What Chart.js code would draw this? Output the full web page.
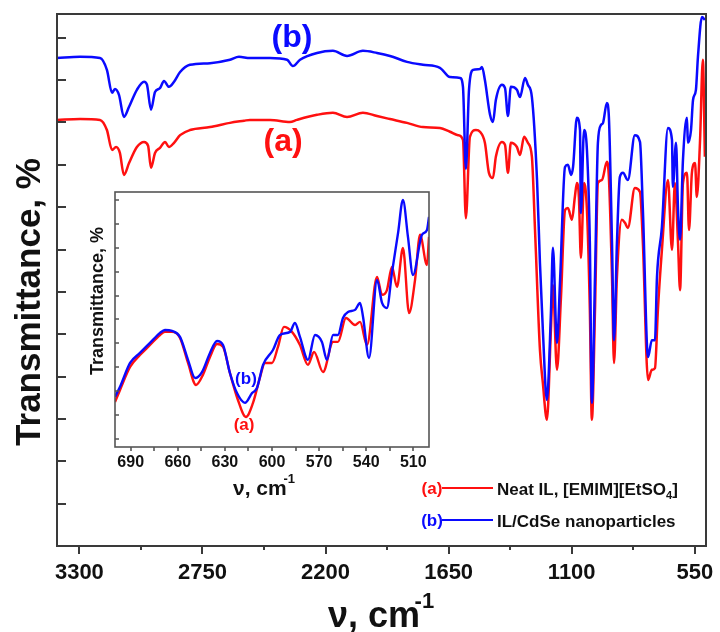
<!DOCTYPE html>
<html>
<head>
<meta charset="utf-8">
<title>FTIR spectra</title>
<script src="https://cdn.jsdelivr.net/npm/chart.js@4.4.1/dist/chart.umd.min.js"></script>
<style>
  html, body { margin: 0; padding: 0; background: #fff; }
  #wrap { position: relative; width: 720px; height: 632px; overflow: hidden; }
  #main { position: absolute; left: 0; top: 0; }
  #inset { position: absolute; left: 80px; top: 186px; }
</style>
</head>
<body>
<div id="wrap">
  <canvas id="main" width="720" height="632"></canvas>
  <canvas id="inset" width="360" height="320"></canvas>
</div>
<script>
// wavenumber (cm-1) and transmittance (arb. units, one unit per y tick)
const mainWaveA = [3400,3297,3208,3177,3154,3136,3119,3101,3078,3043,3011,2993,2980,2962,2940,2917,2900,2877,2850,2806,
  2716,2627,2564,2538,2448,2359,2328,2238,2167,2104,2033,1970,1912,1836,1765,1689,1644,1608,1586,1573,
  1555,1528,1510,1488,1470,1452,1439,1412,1398,1385,1372,1345,1331,1313,1296,1278,1264,1242,1229,1211,
  1193,1184,1166,1148,1130,1117,1099,1086,1077,1068,1059,1045,1032,1019,1010,996,983,965,943,934,
  920,911,898,876,862,849,818,795,782,759,742,728,715,697,670,652,639,625,616,603,
  585,576,563,549,541,527,514,505];
const mainTransA = [10.06,10.08,10.06,9.82,9.35,9.42,9.28,8.76,9.04,9.42,9.54,9.45,8.93,9.28,9.40,9.54,9.42,9.52,9.70,9.82,
  9.89,9.99,10.04,10.06,10.06,10.01,10.06,10.18,10.23,10.13,10.23,10.15,10.08,9.99,9.89,9.87,9.78,9.70,9.59,7.74,
  9.66,9.82,9.78,9.52,8.81,8.69,9.19,9.54,9.47,8.81,9.52,9.42,9.23,9.66,9.52,9.19,7.46,4.63,3.85,2.98,
  5.10,6.16,4.16,5.88,7.93,7.98,7.70,8.24,8.57,8.24,6.80,8.57,7.93,5.57,2.98,5.57,8.57,8.64,9.07,8.71,
  6.35,4.32,6.35,7.70,7.63,7.51,8.45,8.36,7.15,3.92,4.16,4.20,5.57,6.99,8.64,6.99,8.57,7.15,6.04,8.57,
  8.81,7.46,8.81,9.04,8.24,9.52,11.48,9.19];

const mainWaveB = [3400,3297,3208,3177,3154,3141,3123,3101,3078,3043,3011,2998,2980,2962,2940,2922,2900,2877,2850,2806,
  2716,2627,2587,2538,2448,2372,2346,2314,2238,2167,2104,2033,1970,1912,1836,1765,1689,1644,1599,1586,
  1573,1559,1541,1510,1501,1488,1465,1452,1439,1412,1398,1385,1372,1345,1331,1309,1296,1278,1255,1242,
  1229,1211,1193,1184,1166,1152,1130,1117,1103,1094,1077,1063,1059,1045,1032,1019,1010,996,983,969,
  960,943,934,920,911,898,885,871,849,818,795,782,759,742,728,719,697,670,652,648,
  634,625,616,603,585,581,567,558,545,536,518,505];
const mainTransB = [11.52,11.55,11.52,11.24,10.70,10.79,10.65,10.13,10.37,10.77,10.96,10.89,10.30,10.72,10.81,10.98,10.84,10.96,11.19,11.36,
  11.40,11.48,11.55,11.52,11.52,11.48,11.33,11.48,11.64,11.69,11.57,11.69,11.64,11.57,11.43,11.36,11.29,11.07,11.05,10.84,
  8.90,10.77,11.24,11.26,11.31,11.00,10.18,10.01,10.53,10.89,10.81,10.15,10.84,10.77,10.60,11.05,10.89,10.60,8.64,6.68,
  5.10,3.45,5.50,7.04,4.79,6.28,8.95,9.00,8.76,8.95,10.11,9.82,7.86,9.82,9.35,7.15,3.38,6.35,9.52,9.94,
  9.99,10.46,10.13,7.15,4.86,7.15,8.71,8.81,8.64,9.70,9.54,7.93,4.46,4.86,4.86,6.35,7.53,9.87,9.59,8.48,
  9.52,7.93,7.23,9.11,10.11,9.52,9.82,10.53,10.77,11.55,12.49,12.42];

// inset: 700-500 cm-1
const insetWaveA = [700,696.8,690.4,684.1,677.7,671.3,668.2,663.7,658.6,653.5,648.4,644.0,639.5,635.0,631.2,626.8,621.7,616.6,612.1,607.6,
  604.5,600.0,596.2,592.4,587.3,582.2,577.1,573.2,567.5,561.1,558.0,552.9,547.1,543.9,539.5,533.1,529.9,526.8,523.6,520.4,
  516.6,512.7,508.9,505.7,501.3,500];
const insetTransA = [2.55,3.05,4.01,4.51,4.93,5.35,5.48,5.48,5.23,4.18,3.26,3.68,4.43,4.97,4.85,3.76,2.63,1.92,2.51,3.59,
  4.18,4.18,4.85,5.69,5.48,4.93,4.10,4.64,3.80,5.06,5.06,6.06,5.77,5.90,4.93,7.78,7.03,7.23,8.20,7.36,
  8.99,6.27,7.65,9.54,8.28,9.45];

const insetWaveB = [700,696.8,690.4,684.1,677.7,671.3,668.2,663.7,658.6,653.5,649.0,644.6,639.5,635.0,631.2,626.8,622.3,617.2,612.7,609.6,
  605.7,599.4,594.9,588.5,585.4,582.2,577.1,572.6,568.2,565.0,561.1,558.0,554.8,551.6,547.1,543.9,542.0,538.2,533.1,529.9,
  526.8,523.6,519.7,516.6,513.4,510.2,504.5,501.3,500];
const insetTransB = [2.76,3.18,4.18,4.60,5.02,5.44,5.56,5.52,5.27,4.31,3.55,3.80,4.60,5.10,4.93,3.76,2.92,2.51,2.92,3.13,
  4.10,4.72,5.35,5.48,5.85,5.27,4.31,5.35,5.06,4.31,5.35,5.35,6.06,6.31,6.40,6.69,6.10,4.39,7.65,6.69,
  6.48,7.95,9.62,11.0,9.45,7.86,9.54,9.74,10.29];

// ticks
const mainXMajor = [3300, 2750, 2200, 1650, 1100, 550];
const mainXMinor = [3025, 2475, 1925, 1375, 825];
const mainYTicks = [1,2,3,4,5,6,7,8,9,10,11,12];
const insetXMajor = [690, 660, 630, 600, 570, 540, 510];
const insetXMinor = [675, 645, 615, 585, 555, 525];
const insetYTicks = [1,2,3,4,5,6,7,8,9,10,11];

const labelA = 'Neat IL, [EMIM][EtSO';
const labelB = 'IL/CdSe nanoparticles';

const FONT = '"Liberation Sans", Arial, Helvetica, sans-serif';
Chart.defaults.font.family = FONT;
const RED = '#ff1010';
const BLUE = '#0a0aff';
const AXIS = '#3a3a3a';

function toPoints(xs, ys) {
  return xs.map((x, i) => ({ x: x, y: ys[i] }));
}

// fixed axis boxes so the plot area lands where it should
function fixX(h) {
  return s => { s.height = h; s.paddingLeft = 0; s.paddingRight = 0; };
}
function fixY(w) {
  return s => { s.width = w; s.paddingTop = 0; s.paddingBottom = 0; };
}

function drawNuTitle(ctx, x, baseline, size, supSize, supRise) {
  ctx.font = 'bold ' + size + 'px ' + FONT;
  ctx.textAlign = 'left';
  ctx.textBaseline = 'alphabetic';
  ctx.fillText('ν, cm', x, baseline);
  const w = ctx.measureText('ν, cm').width;
  ctx.font = 'bold ' + supSize + 'px ' + FONT;
  ctx.fillText('-1', x + w - supSize * 0.25, baseline - supRise);
}

const mainDecor = {
  id: 'mainDecor',
  afterDraw(chart) {
    const ctx = chart.ctx, a = chart.chartArea;
    const xs = chart.scales.x, ys = chart.scales.y;
    ctx.save();
    ctx.strokeStyle = AXIS;
    ctx.lineWidth = 2;
    ctx.strokeRect(a.left, a.top, a.right - a.left, a.bottom - a.top);
    ctx.beginPath();
    mainYTicks.forEach(v => {
      const y = Math.round(ys.getPixelForValue(v));
      ctx.moveTo(a.left, y); ctx.lineTo(a.left + 9, y);
    });
    mainXMajor.forEach(v => {
      const x = Math.round(xs.getPixelForValue(v));
      ctx.moveTo(x, a.bottom); ctx.lineTo(x, a.bottom + 8);
    });
    mainXMinor.forEach(v => {
      const x = Math.round(xs.getPixelForValue(v));
      ctx.moveTo(x, a.bottom); ctx.lineTo(x, a.bottom + 4);
    });
    ctx.stroke();

    // axis titles
    ctx.fillStyle = '#111';
    ctx.save();
    ctx.translate(28, 302);
    ctx.rotate(-Math.PI / 2);
    ctx.font = 'bold 35px ' + FONT;
    ctx.textAlign = 'center';
    ctx.textBaseline = 'middle';
    ctx.fillText('Transmittance, %', 0, 2);
    ctx.restore();
    drawNuTitle(ctx, 328, 627, 36, 22, 19);

    // curve labels
    ctx.font = 'bold 32px ' + FONT;
    ctx.textAlign = 'center';
    ctx.textBaseline = 'middle';
    ctx.fillStyle = BLUE;
    ctx.fillText('(b)', xs.getPixelForValue(2350), ys.getPixelForValue(12.0));
    ctx.fillStyle = RED;
    ctx.fillText('(a)', xs.getPixelForValue(2390), ys.getPixelForValue(9.54));

    // legend
    ctx.font = 'bold 17px ' + FONT;
    ctx.lineWidth = 2;
    ctx.fillStyle = RED;
    ctx.fillText('(a)', 432, 489);
    ctx.strokeStyle = RED;
    ctx.beginPath(); ctx.moveTo(442, 488); ctx.lineTo(493, 488); ctx.stroke();
    ctx.fillStyle = BLUE;
    ctx.fillText('(b)', 432, 521);
    ctx.strokeStyle = BLUE;
    ctx.beginPath(); ctx.moveTo(442, 520); ctx.lineTo(493, 520); ctx.stroke();

    ctx.fillStyle = '#111';
    ctx.textAlign = 'left';
    ctx.textBaseline = 'alphabetic';
    ctx.fillText(labelA, 497, 495);
    const w = ctx.measureText(labelA).width;
    ctx.font = 'bold 11px ' + FONT;
    ctx.fillText('4', 497 + w, 499);
    const w4 = ctx.measureText('4').width;
    ctx.font = 'bold 17px ' + FONT;
    ctx.fillText(']', 497 + w + w4, 495);
    ctx.fillText(labelB, 497, 527);
    ctx.restore();
  }
};

const insetDecor = {
  id: 'insetDecor',
  beforeDraw(chart) {
    const ctx = chart.ctx, a = chart.chartArea;
    ctx.save();
    ctx.fillStyle = '#fff';
    ctx.fillRect(a.left, a.top, a.right - a.left, a.bottom - a.top);
    ctx.restore();
  },
  afterDraw(chart) {
    const ctx = chart.ctx, a = chart.chartArea;
    const xs = chart.scales.x, ys = chart.scales.y;
    ctx.save();
    ctx.strokeStyle = '#555';
    ctx.lineWidth = 1.6;
    ctx.strokeRect(a.left, a.top, a.right - a.left, a.bottom - a.top);
    ctx.beginPath();
    insetYTicks.forEach(v => {
      const y = Math.round(ys.getPixelForValue(v));
      ctx.moveTo(a.left, y); ctx.lineTo(a.left + 4, y);
    });
    insetXMajor.concat(insetXMinor).forEach(v => {
      const x = Math.round(xs.getPixelForValue(v));
      ctx.moveTo(x, a.bottom); ctx.lineTo(x, a.bottom + 4);
    });
    ctx.stroke();

    ctx.fillStyle = '#111';
    ctx.save();
    ctx.translate(17.5, 115);
    ctx.rotate(-Math.PI / 2);
    ctx.font = 'bold 18px ' + FONT;
    ctx.textAlign = 'center';
    ctx.textBaseline = 'middle';
    ctx.fillText('Transmittance, %', 0, 1);
    ctx.restore();
    drawNuTitle(ctx, 153, 309, 21, 13, 12);

    ctx.font = 'bold 17px ' + FONT;
    ctx.textAlign = 'center';
    ctx.textBaseline = 'middle';
    ctx.fillStyle = BLUE;
    ctx.fillText('(b)', xs.getPixelForValue(616.6), ys.getPixelForValue(3.51));
    ctx.fillStyle = RED;
    ctx.fillText('(a)', xs.getPixelForValue(617.8), ys.getPixelForValue(1.59));
    ctx.restore();
  }
};

new Chart(document.getElementById('main'), {
  type: 'line',
  data: {
    datasets: [
      { label: labelB, data: toPoints(mainWaveB, mainTransB), borderColor: BLUE },
      { label: labelA, data: toPoints(mainWaveA, mainTransA), borderColor: RED }
    ]
  },
  options: {
    responsive: false,
    animation: false,
    devicePixelRatio: 1,
    layout: { padding: { left: 0, top: 14, right: 14, bottom: 0 } },
    elements: {
      point: { radius: 0 },
      line: { borderWidth: 2.5, cubicInterpolationMode: 'monotone', fill: false }
    },
    plugins: { legend: { display: false }, tooltip: { enabled: false } },
    scales: {
      x: {
        type: 'linear', reverse: true, min: 500, max: 3400,
        afterBuildTicks: s => { s.ticks = mainXMajor.map(v => ({ value: v })); },
        afterFit: fixX(86),
        grid: { display: false, drawTicks: false },
        border: { display: false },
        ticks: {
          autoSkip: false, maxRotation: 0, padding: 14, color: '#111',
          font: { size: 22, weight: 'bold' },
          callback: v => String(v)
        }
      },
      y: {
        type: 'linear', min: 0, max: 12.56,
        afterFit: fixY(57),
        grid: { display: false, drawTicks: false },
        border: { display: false },
        ticks: { display: false }
      }
    }
  },
  plugins: [mainDecor]
});

new Chart(document.getElementById('inset'), {
  type: 'line',
  data: {
    datasets: [
      { label: labelB, data: toPoints(insetWaveB, insetTransB), borderColor: BLUE },
      { label: labelA, data: toPoints(insetWaveA, insetTransA), borderColor: RED }
    ]
  },
  options: {
    responsive: false,
    animation: false,
    devicePixelRatio: 1,
    layout: { padding: { left: 0, top: 6, right: 11, bottom: 0 } },
    elements: {
      point: { radius: 0 },
      line: { borderWidth: 2.4, cubicInterpolationMode: 'monotone', fill: false }
    },
    plugins: { legend: { display: false }, tooltip: { enabled: false } },
    scales: {
      x: {
        type: 'linear', reverse: true, min: 500, max: 700,
        afterBuildTicks: s => { s.ticks = insetXMajor.map(v => ({ value: v })); },
        afterFit: fixX(59),
        grid: { display: false, drawTicks: false },
        border: { display: false },
        ticks: {
          autoSkip: false, maxRotation: 0, padding: 6, color: '#111',
          font: { size: 16, weight: 'bold' },
          callback: v => String(v)
        }
      },
      y: {
        type: 'linear', min: 0.665, max: 11.33,
        afterFit: fixY(35),
        grid: { display: false, drawTicks: false },
        border: { display: false },
        ticks: { display: false }
      }
    }
  },
  plugins: [insetDecor]
});
</script>
</body>
</html>
